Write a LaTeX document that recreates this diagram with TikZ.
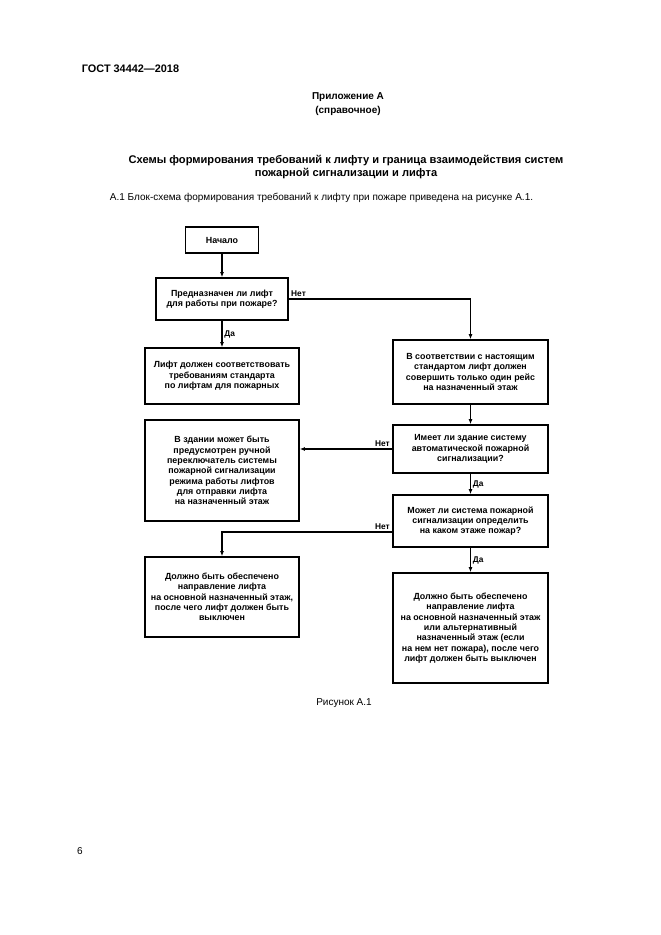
\documentclass[tikz,border=0pt]{standalone}
\usepackage{fontspec}
\setmainfont{Liberation Sans}
\usetikzlibrary{arrows.meta}

\tikzset{
  blok/.style={draw, line width=1.4pt, align=center, inner sep=2pt,
    font=\bfseries\fontsize{8}{9.3}\selectfont},
  strelka/.style={line width=1.4pt, -{Latex[length=4.5pt,width=3.5pt]}},
  metka/.style={font=\bfseries\fontsize{7.5}{9}\selectfont, inner sep=1.5pt}
}

\begin{document}
\begin{tikzpicture}[x=0.9pt,y=-0.9pt]
\useasboundingbox (0,0) rectangle (661,935);

% page text
\node[anchor=base west,font=\bfseries\fontsize{9.8}{12}\selectfont] (gost) at (78,72) {ГОСТ 34442—2018};
\node[align=center,font=\bfseries\fontsize{9}{12}\selectfont] (pril) at (348,104) {Приложение А\\(справочное)};
\node[align=center,font=\bfseries\fontsize{10}{12.5}\selectfont] (zag) at (346,167) {Схемы формирования требований к лифту и граница взаимодействия систем\\пожарной сигнализации и лифта};
\node[anchor=base west,font=\fontsize{9}{11}\selectfont] (abz) at (106,200) {А.1 Блок-схема формирования требований к лифту при пожаре приведена на рисунке А.1.};

% flowchart
\node[blok,minimum width=65.7pt,minimum height=23.4pt] (nachalo) at (222,240) {Начало};
\node[blok,minimum width=118.8pt,minimum height=37.8pt] (q1) at (222,299) {Предназначен ли лифт\\для работы при пожаре?};
\node[blok,minimum width=138.6pt,minimum height=50.4pt] (b1) at (222,376) {Лифт должен соответствовать\\требованиям стандарта\\по лифтам для пожарных};
\node[blok,minimum width=139.5pt,minimum height=57.6pt] (b2) at (470.5,372) {В соответствии с настоящим\\стандартом лифт должен\\совершить только один рейс\\на назначенный этаж};
\node[blok,minimum width=139.5pt,minimum height=43.2pt] (q2) at (470.5,449) {Имеет ли здание систему\\автоматической пожарной\\сигнализации?};
\node[blok,minimum width=138.6pt,minimum height=90.9pt] (b3) at (222,470.5) {В здании может быть\\предусмотрен ручной\\переключатель системы\\пожарной сигнализации\\режима работы лифтов\\для отправки лифта\\на назначенный этаж};
\node[blok,minimum width=139.5pt,minimum height=46.8pt] (q3) at (470.5,521) {Может ли система пожарной\\сигнализации определить\\на каком этаже пожар?};
\node[blok,minimum width=138.6pt,minimum height=72pt] (b4) at (222,597) {Должно быть обеспечено\\направление лифта\\на основной назначенный этаж,\\после чего лифт должен быть\\выключен};
\node[blok,minimum width=139.5pt,minimum height=99pt] (b5) at (470.5,628) {Должно быть обеспечено\\направление лифта\\на основной назначенный этаж\\или альтернативный\\назначенный этаж (если\\на нем нет пожара), после чего\\лифт должен быть выключен};

\draw[strelka] (nachalo) -- (q1);
\draw[strelka] (q1) -- node[metka,right]{Да} (b1);
\draw[strelka] (q1.east) node[metka,above right]{Нет} -| (b2.north);
\draw[strelka] (b2) -- (q2);
\draw[strelka] (q2.west) node[metka,above left]{Нет} -- (q2.west -| b3.east);
\draw[strelka] (q2) -- node[metka,right]{Да} (q3);
\draw[strelka] ([yshift=-10pt]q3.west) node[metka,above left]{Нет} -| (b4.north);
\draw[strelka] (q3) -- node[metka,right]{Да} (b5);

\node[font=\fontsize{9}{11}\selectfont] (ris) at (344,703) {Рисунок А.1};
\node[font=\fontsize{9}{11}\selectfont] (nomer) at (80,851) {6};

\end{tikzpicture}
\end{document}
